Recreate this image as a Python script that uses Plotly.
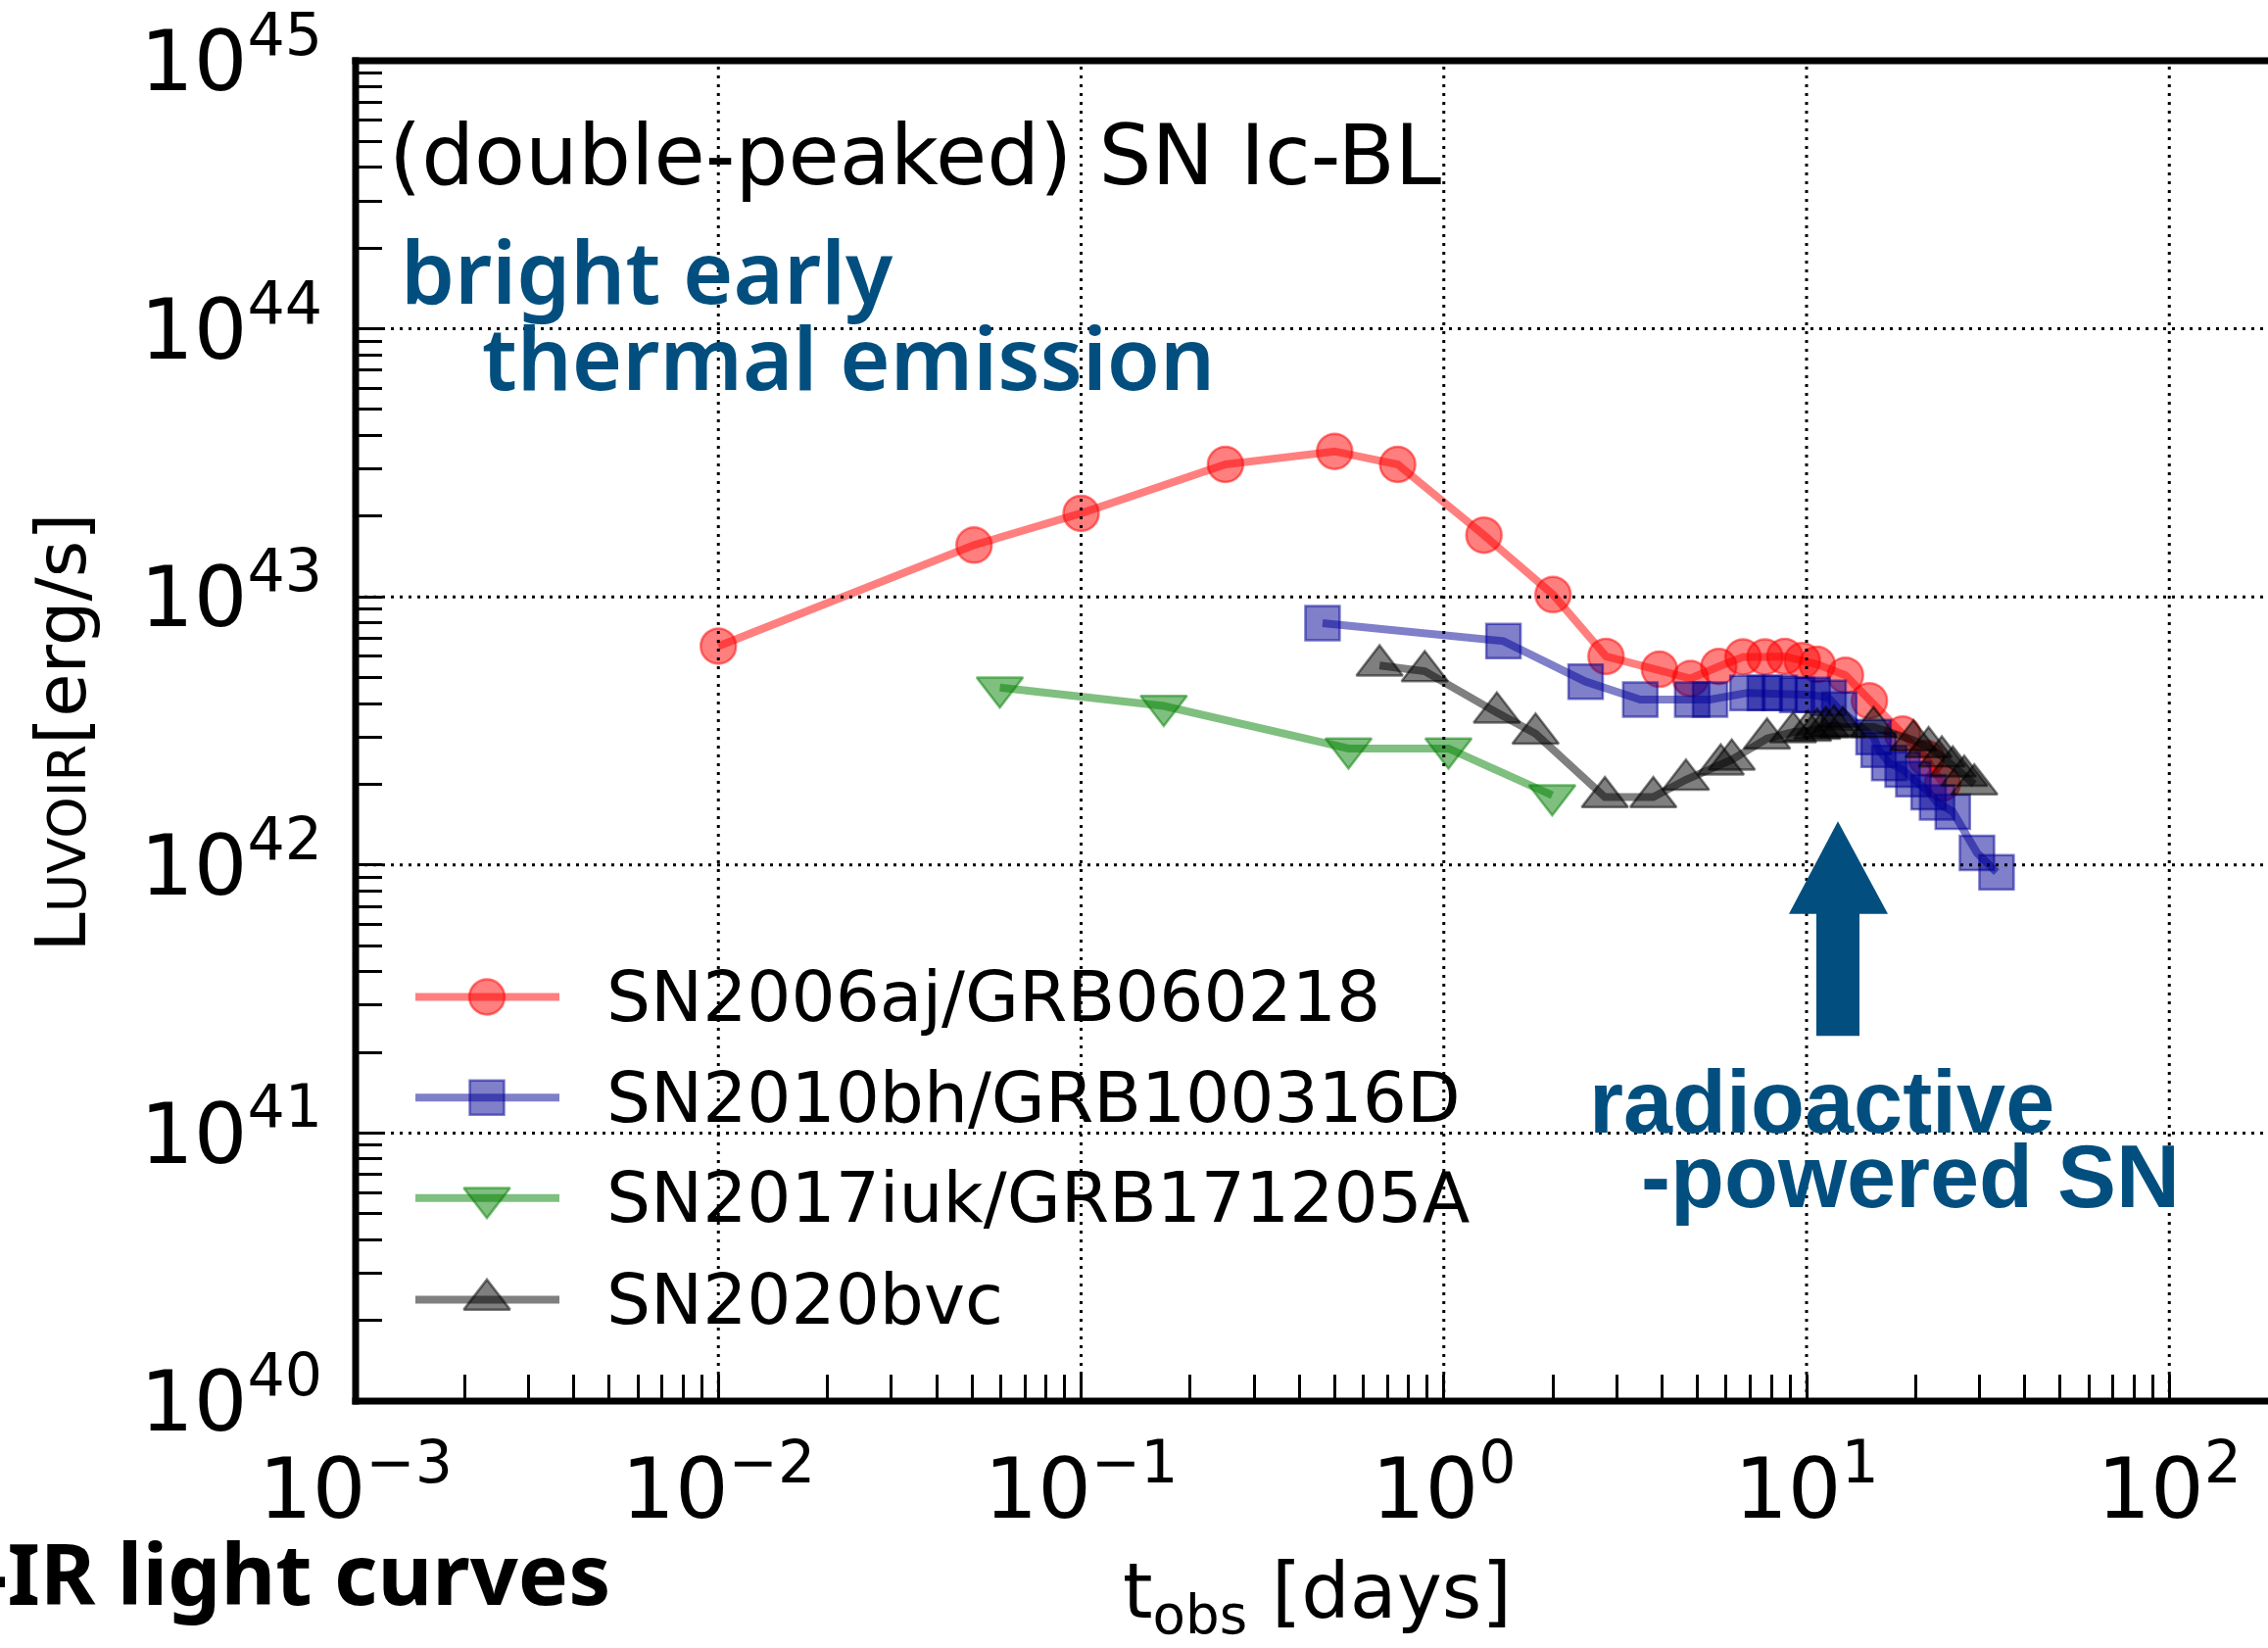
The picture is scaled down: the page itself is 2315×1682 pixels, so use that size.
import plotly.graph_objects as go

# ---------------- data ----------------
series_names = ["SN2006aj/GRB060218", "SN2010bh/GRB100316D",
                "SN2017iuk/GRB171205A", "SN2020bvc"]

t_2006aj = [0.01, 0.0507, 0.1, 0.25, 0.50, 0.746, 1.29, 2.0, 2.8, 3.93, 4.79,
            5.73, 6.68, 7.68, 8.71, 9.73, 10.7, 12.8, 14.9, 18.4, 21.4, 23.7]
L_2006aj = [6.55e42, 1.56e43, 2.05e43, 3.12e43, 3.49e43, 3.12e43, 1.70e43,
            1.02e43, 6.0e42, 5.37e42, 4.96e42, 5.5e42, 5.97e42, 5.97e42,
            6.0e42, 5.78e42, 5.6e42, 5.1e42, 4.1e42, 3.08e42, 2.50e42, 2.02e42]

t_2010bh = [0.463, 1.46, 2.46, 3.48, 4.84, 5.42, 6.87, 7.67, 8.43, 9.42, 10.4,
            11.5, 12.3, 15.3, 15.8, 16.9, 18.4, 19.7, 21.7, 22.9, 25.3, 29.5, 33.4]
L_2010bh = [7.98e42, 6.84e42, 4.83e42, 4.14e42, 4.14e42, 4.14e42, 4.38e42,
            4.38e42, 4.38e42, 4.31e42, 4.31e42, 4.2e42, 3.8e42, 3.0e42, 2.69e42,
            2.4e42, 2.27e42, 2.09e42, 1.87e42, 1.71e42, 1.58e42, 1.11e42, 0.94e42]

t_2017iuk = [0.0597, 0.169, 0.546, 1.03, 1.99]
L_2017iuk = [4.59e42, 3.92e42, 2.72e42, 2.72e42, 1.82e42]

t_2020bvc = [0.665, 0.886, 1.40, 1.79, 2.78, 3.78, 4.65, 5.8, 6.22, 7.78, 9.18,
             10.1, 10.7, 11.3, 11.9, 12.6, 15.3, 19.7, 21.7, 23.6, 25.3, 27.2, 29.0]
L_2020bvc = [5.55e42, 5.28e42, 3.7e42, 3.09e42, 1.79e42, 1.79e42, 2.08e42,
             2.37e42, 2.47e42, 2.96e42, 3.13e42, 3.17e42, 3.22e42, 3.27e42,
             3.31e42, 3.27e42, 3.27e42, 2.92e42, 2.75e42, 2.54e42, 2.33e42,
             2.15e42, 2.0e42]

x_tick_exps = [-3, -2, -1, 0, 1, 2]
y_tick_exps = [40, 41, 42, 43, 44, 45]

# ---------------- layout geometry ----------------
W, H = 2315, 1682
L_M, R_M, T_M, B_M = 363, 0, 57, 252
PW = W - L_M - R_M
PH = H - T_M - B_M
X_LOG_MIN = -3.0
X_LOG_MAX = X_LOG_MIN + PW / 370.25
Y_LOG_MIN, Y_LOG_MAX = 40.0, 45.0


def px(X):
    return (X - L_M) / PW


def py(Y):
    return (H - B_M - Y) / PH


BLUE_TXT = "#024F7F"
styles = [
    dict(rgb="255,0,0", symbol="circle", size=36),
    dict(rgb="0,0,150", symbol="square", size=35),
    dict(rgb="0,128,0", symbol="triangle-down", size=41),
    dict(rgb="0,0,0", symbol="triangle-up", size=41),
]
data = [(t_2006aj, L_2006aj), (t_2010bh, L_2010bh),
        (t_2017iuk, L_2017iuk), (t_2020bvc, L_2020bvc)]

fig = go.Figure()

for name, (t, L), st in zip(series_names, data, styles):
    c = f"rgba({st['rgb']},0.5)"
    fig.add_trace(go.Scatter(
        x=t, y=L, mode="lines+markers", name=name, showlegend=False,
        line=dict(color=c, width=8),
        marker=dict(symbol=st["symbol"], size=st["size"], color=c,
                    line=dict(color=c, width=2.5)),
    ))

# ---------------- hand-drawn legend (matplotlib style) ----------------
legend_rows = [1016, 1119, 1222, 1326]
annotations = []
for name, st, row in zip(series_names, styles, legend_rows):
    c = f"rgba({st['rgb']},0.5)"
    yr = py(row)
    fig.add_trace(go.Scatter(
        x=[px(424), px(571)], y=[yr, yr], xaxis="x2", yaxis="y2",
        mode="lines", line=dict(color=c, width=8),
        showlegend=False, hoverinfo="skip"))
    fig.add_trace(go.Scatter(
        x=[px(497)], y=[yr], xaxis="x2", yaxis="y2", mode="markers",
        marker=dict(symbol=st["symbol"], size=st["size"], color=c,
                    line=dict(color=c, width=2.5)),
        showlegend=False, hoverinfo="skip"))
    annotations.append(dict(
        text=name, x=px(617), y=yr, xref="paper", yref="paper",
        xanchor="left", yanchor="middle", showarrow=False,
        font=dict(family="DejaVu Sans", size=71, color="black")))

# ---------------- texts ----------------
annotations += [
    dict(text="(double-peaked) SN Ic-BL", x=px(395), y=py(154),
         xanchor="left", yanchor="middle",
         font=dict(family="DejaVu Sans", size=85, color="black")),
    dict(text="bright early", x=px(407), y=py(272), xanchor="left", yanchor="middle",
         font=dict(family="Noto Sans", size=88, color=BLUE_TXT, weight=600)),
    dict(text="thermal emission", x=px(490), y=py(360), xanchor="left", yanchor="middle",
         font=dict(family="Noto Sans", size=88, color=BLUE_TXT, weight=600)),
    dict(text="radioactive", x=px(1620), y=py(1124), xanchor="left", yanchor="middle",
         font=dict(family="Liberation Sans", size=90, color=BLUE_TXT, weight="bold")),
    dict(text="-powered SN", x=px(1673), y=py(1200), xanchor="left", yanchor="middle",
         font=dict(family="Liberation Sans", size=90, color=BLUE_TXT, weight="bold")),
    dict(text="-IR light curves", x=px(625), y=py(1605), xanchor="right", yanchor="middle",
         font=dict(family="Noto Sans", size=86, color="black", weight="bold")),
    dict(text="t<sub>obs</sub> [days]", x=px(1344), y=py(1630),
         xanchor="center", yanchor="middle",
         font=dict(family="DejaVu Sans", size=78, color="black")),
    dict(text="L<span style='font-size:54px'>UVOIR</span>[erg/s]", x=px(62), y=py(745),
         xanchor="center", yanchor="middle", textangle=-90,
         font=dict(family="DejaVu Sans", size=72, color="black")),
]
for a in annotations:
    a.setdefault("xref", "paper")
    a.setdefault("yref", "paper")
    a.setdefault("showarrow", False)

# ---------------- shapes: grid (above data), spines, arrow ----------------
shapes = []
dash = "3px,6px"
for k in x_tick_exps[1:]:
    xp = (k - X_LOG_MIN) / (X_LOG_MAX - X_LOG_MIN)
    shapes.append(dict(type="line", xref="paper", yref="paper", x0=xp, x1=xp, y0=0, y1=1,
                       line=dict(color="black", width=3, dash=dash), layer="above"))
for k in y_tick_exps[1:-1]:
    yp = (k - Y_LOG_MIN) / (Y_LOG_MAX - Y_LOG_MIN)
    shapes.append(dict(type="line", xref="paper", yref="paper", x0=0, x1=1, y0=yp, y1=yp,
                       line=dict(color="black", width=3, dash=dash), layer="above"))
hx, hy = 3.5 / PW, 3.5 / PH
shapes += [
    dict(type="line", xref="paper", yref="paper", x0=0, x1=0, y0=-hy, y1=1 + hy,
         line=dict(color="black", width=7), layer="above"),
    dict(type="line", xref="paper", yref="paper", x0=-hx, x1=1, y0=0, y1=0,
         line=dict(color="black", width=7), layer="above"),
    dict(type="line", xref="paper", yref="paper", x0=-hx, x1=1, y0=1, y1=1,
         line=dict(color="black", width=7), layer="above"),
]
arrow_pts = [(1854, 1056), (1898, 1056), (1898, 931), (1927, 931),
             (1876, 836), (1826, 931), (1854, 931)]
path = "M " + " L ".join(f"{px(a):.5f},{py(b):.5f}" for a, b in arrow_pts) + " Z"
shapes.append(dict(type="path", xref="paper", yref="paper", path=path,
                   fillcolor=BLUE_TXT, line=dict(width=0), layer="above"))

# ---------------- axes ----------------
x_minor = [m * 10.0 ** k for k in range(-3, 3) for m in range(2, 10)]
y_minor = [m * 10.0 ** k for k in range(40, 45) for m in range(2, 10)]
tick_font = dict(family="DejaVu Sans", size=86, color="black")
MINUS = "\u2212"

fig.update_layout(
    width=W, height=H,
    margin=dict(l=L_M, r=R_M, t=T_M, b=B_M, pad=0),
    paper_bgcolor="white", plot_bgcolor="white",
    showlegend=False,
    xaxis=dict(
        type="log", range=[X_LOG_MIN, X_LOG_MAX], showline=False, showgrid=False,
        zeroline=False, ticks="inside", ticklen=27, tickwidth=2.5, tickcolor="black",
        tickmode="array", tickvals=[10.0 ** k for k in x_tick_exps],
        ticktext=[f"10<sup>{MINUS if k < 0 else ''}{abs(k)}</sup>" for k in x_tick_exps],
        tickfont=tick_font, ticklabelstandoff=32, ticklabeloverflow="allow",
        minor=dict(ticks="inside", ticklen=27, tickwidth=2.5, tickcolor="black",
                   tickmode="array", tickvals=x_minor, showgrid=False),
    ),
    yaxis=dict(
        type="log", range=[Y_LOG_MIN, Y_LOG_MAX], showline=False, showgrid=False,
        zeroline=False, ticks="inside", ticklen=27, tickwidth=3, tickcolor="black",
        tickmode="array", tickvals=[10.0 ** k for k in y_tick_exps],
        ticktext=[f"10<sup>{k}</sup>" for k in y_tick_exps],
        tickfont=tick_font, ticklabelstandoff=33, ticklabeloverflow="allow",
        minor=dict(ticks="inside", ticklen=27, tickwidth=3, tickcolor="black",
                   tickmode="array", tickvals=y_minor, showgrid=False),
    ),
    xaxis2=dict(overlaying="x", range=[0, 1], visible=False, anchor="y2"),
    yaxis2=dict(overlaying="y", range=[0, 1], visible=False, anchor="x2"),
    annotations=annotations,
    shapes=shapes,
)

fig.write_html("out.html")
